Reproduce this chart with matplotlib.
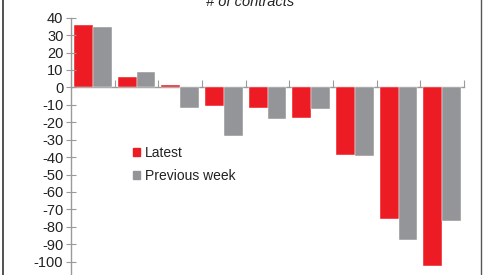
import numpy as np
import matplotlib.pyplot as plt
from matplotlib.patches import Patch
from matplotlib.lines import Line2D

plt.rcParams['font.family'] = ['Liberation Sans', 'DejaVu Sans']

latest = [35.9, 6.1, 1.5, -10.9, -11.8, -17.4, -38.6, -75.8, -102.6]
previous = [34.8, 8.6, -11.8, -27.7, -18.1, -12.6, -39.4, -87.7, -76.6]
y_ticks = list(range(40, -120, -10))

red = "#ED1C24"
grey = "#939598"

fig = plt.figure(figsize=(4.87, 2.75), dpi=100)
# axes run past the bottom of the figure, as the reference is cropped
ax = fig.add_axes([0.1458, -0.078, 0.807, 1.0135])

x = np.arange(len(latest))
w = 0.43
ax.bar(x - 0.215, latest, w, color=red, edgecolor="white", linewidth=0.3)
ax.bar(x + 0.215, previous, w, color=grey, edgecolor="white", linewidth=0.3)

ax.set_xlim(-0.5, len(latest) - 0.5)
ax.set_ylim(-120, 40)
ax.set_yticks(y_ticks)
ax.set_yticklabels([str(v) for v in y_ticks])

for s in ["top", "right"]:
    ax.spines[s].set_visible(False)
ax.spines["bottom"].set_position(("data", 0))
ax.spines["bottom"].set_zorder(0)
for s in ["left", "bottom"]:
    ax.spines[s].set_color("#9a9a9a")
    ax.spines[s].set_linewidth(1.0)

ax.set_xticks(np.arange(-0.5, len(latest), 1.0))
ax.set_xticklabels([])
ax.tick_params(axis="x", direction="in", length=5, color="#9a9a9a")
ax.tick_params(axis="y", direction="inout", length=7, color="#9a9a9a",
               labelsize=10.5, labelcolor="#222222", pad=2)

ax.legend(handles=[Patch(color=red, label="Latest"),
                   Patch(color=grey, label="Previous week")],
          loc="upper left", bbox_to_anchor=(0.125, 0.585), frameon=False,
          fontsize=10, handlelength=0.55, handleheight=0.55,
          handletextpad=0.35, labelspacing=0.65, labelcolor="#222222")

fig.text(0.514, 0.98, "# of contracts", ha="center", va="baseline",
         fontsize=10.5, style="italic", color="#222222")

# outer frame of the cropped chart
fig.add_artist(Line2D([0.006, 0.006], [0, 1], color="#333333", lw=1.2))
fig.add_artist(Line2D([0.988, 0.988], [0, 1], color="#555555", lw=1.0))

fig.savefig("out.png", dpi=100)
